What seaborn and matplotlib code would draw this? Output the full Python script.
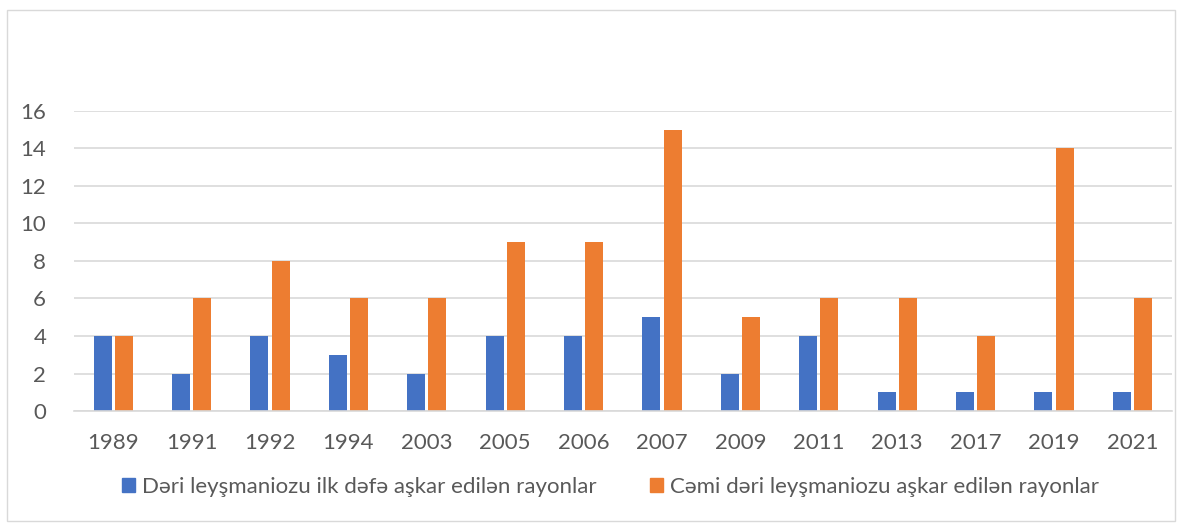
import pandas as pd
import seaborn as sns
import matplotlib.pyplot as plt
from matplotlib.patches import Rectangle

years = ['1989', '1991', '1992', '1994', '2003', '2005', '2006', '2007',
         '2009', '2011', '2013', '2017', '2019', '2021']
first_found = [4, 2, 4, 3, 2, 4, 4, 5, 2, 4, 1, 1, 1, 1]
total_found = [4, 6, 8, 6, 6, 9, 9, 15, 5, 6, 6, 4, 14, 6]
series_names = ['Dəri leyşmaniozu ilk dəfə aşkar edilən rayonlar',
                'Cəmi dəri leyşmaniozu aşkar edilən rayonlar']
colors = ['#4472C4', '#ED7D31']

df = pd.DataFrame({
    'year': years * 2,
    'value': first_found + total_found,
    'series': [series_names[0]] * len(years) + [series_names[1]] * len(years),
})

sns.set_style('white')
plt.rcParams['font.family'] = ['Lato', 'DejaVu Sans']
text_color = '#595959'

fig = plt.figure(figsize=(11.87, 5.27), dpi=100)
ax = fig.add_axes([0.0623, 0.2201, 0.9247, 0.5693])

sns.barplot(data=df, x='year', y='value', hue='series', palette=colors,
            width=0.54, gap=0.15, ax=ax, legend=False, saturation=1,
            linewidth=0)

ax.set_ylim(0, 16)
ax.set_yticks(range(0, 17, 2))
ax.set_xlim(-0.5, len(years) - 0.5)
ax.set_xlabel('')
ax.set_ylabel('')
ax.yaxis.grid(True, color='#D9D9D9', linewidth=1.2)
ax.set_axisbelow(True)
for s in ['top', 'right', 'left']:
    ax.spines[s].set_visible(False)
ax.spines['bottom'].set_color('#D9D9D9')
ax.spines['bottom'].set_linewidth(1.2)
ax.tick_params(axis='both', length=0, labelsize=16, colors=text_color)
ax.tick_params(axis='y', pad=20)
ax.tick_params(axis='x', pad=16)

handles = [Rectangle((0, 0), 1, 1, color=c) for c in colors]
fig.legend(handles, series_names, loc='center', bbox_to_anchor=(0.514, 0.076),
           ncol=2, frameon=False, fontsize=16, labelcolor=text_color,
           handlelength=0.6, handleheight=0.6, handletextpad=0.3,
           columnspacing=2.4)

# light border round the chart area
fig.patches.append(Rectangle((7 / 1187, 1 - 521 / 527), 1168 / 1187, 511 / 527,
                             transform=fig.transFigure, fill=False,
                             edgecolor='#D9D9D9', linewidth=1))

fig.savefig('out.png', dpi=100)
